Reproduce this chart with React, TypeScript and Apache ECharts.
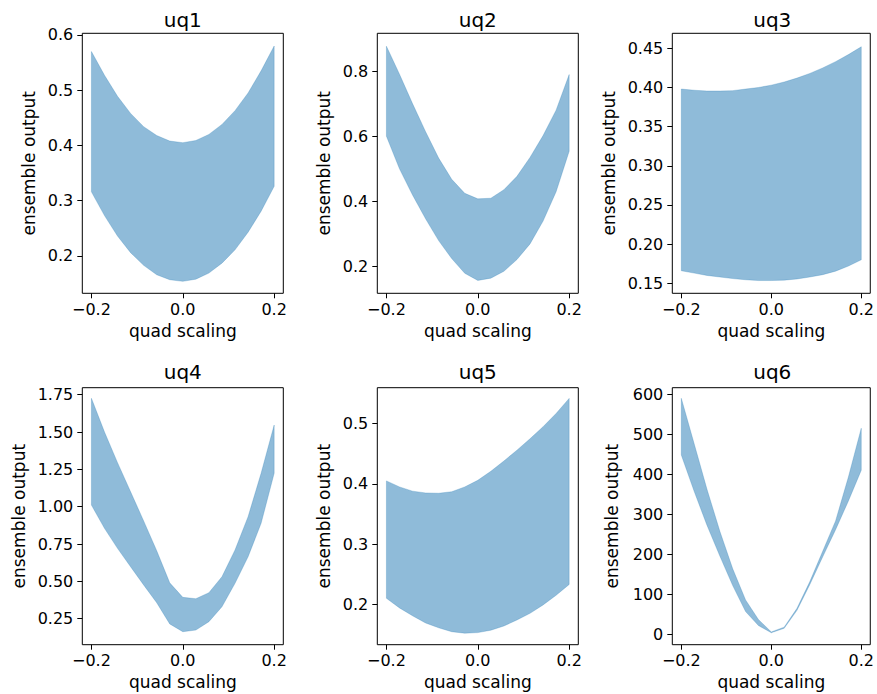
import { useEffect, useRef } from 'react';
import * as echarts from 'echarts';

// ---- data ----
const X_VALUES = [-0.2, -0.1714, -0.1429, -0.1143, -0.0857, -0.0571, -0.0286, 0, 0.0286, 0.0571, 0.0857, 0.1143, 0.1429, 0.1714, 0.2];

const UQ1_UPPER = [0.570, 0.527, 0.489, 0.458, 0.434, 0.418, 0.408, 0.405, 0.409, 0.420, 0.438, 0.463, 0.495, 0.535, 0.580];
const UQ1_LOWER = [0.316, 0.273, 0.236, 0.206, 0.183, 0.166, 0.157, 0.154, 0.158, 0.169, 0.187, 0.211, 0.243, 0.281, 0.326];

const UQ2_UPPER = [0.876, 0.790, 0.700, 0.614, 0.533, 0.468, 0.425, 0.408, 0.410, 0.436, 0.477, 0.535, 0.602, 0.680, 0.789];
const UQ2_LOWER = [0.600, 0.500, 0.420, 0.347, 0.280, 0.225, 0.180, 0.158, 0.165, 0.186, 0.222, 0.270, 0.340, 0.430, 0.554];

const UQ3_UPPER = [0.398, 0.3965, 0.3955, 0.3955, 0.396, 0.398, 0.400, 0.403, 0.407, 0.412, 0.418, 0.425, 0.433, 0.442, 0.452];
const UQ3_LOWER = [0.166, 0.163, 0.160, 0.158, 0.156, 0.1545, 0.1535, 0.1535, 0.154, 0.1555, 0.158, 0.161, 0.1655, 0.172, 0.180];

const UQ4_UPPER = [1.726, 1.500, 1.295, 1.100, 0.905, 0.705, 0.490, 0.393, 0.384, 0.424, 0.531, 0.710, 0.933, 1.224, 1.547];
const UQ4_LOWER = [1.011, 0.855, 0.721, 0.598, 0.476, 0.357, 0.215, 0.163, 0.174, 0.230, 0.330, 0.487, 0.665, 0.889, 1.224];

const UQ5_UPPER = [0.405, 0.395, 0.388, 0.385, 0.3845, 0.387, 0.395, 0.406, 0.421, 0.438, 0.456, 0.475, 0.495, 0.517, 0.542];
const UQ5_LOWER = [0.210, 0.194, 0.181, 0.169, 0.161, 0.1545, 0.152, 0.153, 0.157, 0.164, 0.174, 0.185, 0.199, 0.215, 0.233];

const UQ6_UPPER = [591, 477, 363, 258, 164, 86, 37, 6, 18, 65, 132, 208, 284, 394, 516];
const UQ6_LOWER = [449, 358, 273, 196, 122, 57, 22, 4, 15, 60, 125, 194, 262, 334, 411];

const TITLES = ['uq1', 'uq2', 'uq3', 'uq4', 'uq5', 'uq6'];
const X_TICKS = [-0.2, 0, 0.2];
const Y_TICKS_1 = [0.2, 0.3, 0.4, 0.5, 0.6];
const Y_TICKS_2 = [0.2, 0.4, 0.6, 0.8];
const Y_TICKS_3 = [0.15, 0.2, 0.25, 0.3, 0.35, 0.4, 0.45];
const Y_TICKS_4 = [0.25, 0.5, 0.75, 1.0, 1.25, 1.5, 1.75];
const Y_TICKS_5 = [0.2, 0.3, 0.4, 0.5];
const Y_TICKS_6 = [0, 100, 200, 300, 400, 500, 600];
const X_NAME = 'quad scaling';
const Y_NAME = 'ensemble output';

// ---- layout / styling ----
const FONT = 'DejaVu Sans';
const TICK_FS = 16;
const NAME_FS = 17;
const TITLE_FS = 20;
const FILL = 'rgba(31,119,180,0.5)';

const PANELS = [
  { upper: UQ1_UPPER, lower: UQ1_LOWER, ticks: Y_TICKS_1, dec: 1, yMin: 0.1324, yMax: 0.603, left: 82.3, top: 33.3, width: 201, height: 260, nameGap: 45 },
  { upper: UQ2_UPPER, lower: UQ2_LOWER, ticks: Y_TICKS_2, dec: 1, yMin: 0.1185, yMax: 0.9156, left: 377.3, top: 33.3, width: 201, height: 260, nameGap: 45 },
  { upper: UQ3_UPPER, lower: UQ3_LOWER, ticks: Y_TICKS_3, dec: 2, yMin: 0.1372, yMax: 0.4692, left: 672.3, top: 33.3, width: 200, height: 260, nameGap: 55 },
  { upper: UQ4_UPPER, lower: UQ4_LOWER, ticks: Y_TICKS_4, dec: 2, yMin: 0.0759, yMax: 1.797, left: 82.3, top: 387.7, width: 201, height: 257, nameGap: 55 },
  { upper: UQ5_UPPER, lower: UQ5_LOWER, ticks: Y_TICKS_5, dec: 1, yMin: 0.1329, yMax: 0.5598, left: 377.3, top: 387.7, width: 201, height: 257, nameGap: 45 },
  { upper: UQ6_UPPER, lower: UQ6_LOWER, ticks: Y_TICKS_6, dec: 0, yMin: -26, yMax: 617.5, left: 672.3, top: 387.7, width: 200, height: 257, nameGap: 52 },
];

export default function App() {
  const ref = useRef<HTMLDivElement>(null);
  useEffect(() => {
    document.body.style.margin = '0';
    const chart = echarts.init(ref.current as HTMLDivElement, null, { renderer: 'svg' });
    const textBase = { color: '#000', fontFamily: FONT };

    const grid = PANELS.map((p) => ({
      left: p.left, top: p.top, width: p.width, height: p.height,
      show: true, borderColor: '#000', borderWidth: 1, backgroundColor: 'transparent', containLabel: false,
    }));

    const xAxis = PANELS.map((_, i) => ({
      type: 'value', gridIndex: i, min: -0.22, max: 0.22, position: 'bottom',
      name: X_NAME, nameLocation: 'middle', nameGap: 29,
      nameTextStyle: { ...textBase, fontSize: NAME_FS },
      axisLine: { show: false, onZero: false },
      splitLine: { show: false },
      axisTick: { show: true, inside: false, length: 5, customValues: X_TICKS, lineStyle: { color: '#000', width: 1 } },
      axisLabel: {
        customValues: X_TICKS, margin: 8, ...textBase, fontSize: TICK_FS,
        formatter: (v: number) => (v < 0 ? '\u2212' + Math.abs(v).toFixed(1) : v.toFixed(1)),
      },
    }));

    const yAxis = PANELS.map((p, i) => ({
      type: 'value', gridIndex: i, min: p.yMin, max: p.yMax, position: 'left',
      name: Y_NAME, nameLocation: 'middle', nameGap: p.nameGap,
      nameTextStyle: { ...textBase, fontSize: NAME_FS },
      axisLine: { show: false, onZero: false },
      splitLine: { show: false },
      axisTick: { show: true, inside: false, length: 5, customValues: p.ticks, lineStyle: { color: '#000', width: 1 } },
      axisLabel: {
        customValues: p.ticks, margin: 9, ...textBase, fontSize: TICK_FS,
        formatter: (v: number) => v.toFixed(p.dec),
      },
    }));

    const series = PANELS.map((p, i) => ({
      type: 'custom', xAxisIndex: i, yAxisIndex: i, silent: true,
      data: [[X_VALUES[0], p.lower[0]]],
      renderItem: (_params: any, api: any) => {
        const top = X_VALUES.map((x, j) => api.coord([x, p.upper[j]]));
        const bottom = X_VALUES.map((x, j) => api.coord([x, p.lower[j]])).reverse();
        return { type: 'polygon', shape: { points: top.concat(bottom) }, style: { fill: FILL, stroke: FILL, lineWidth: 0.5 } };
      },
    }));

    const graphic = PANELS.map((p, i) => ({
      type: 'text', x: p.left + p.width / 2, y: i < 3 ? 19.5 : 372,
      style: { text: TITLES[i], fontSize: TITLE_FS, fontFamily: FONT, fill: '#000', align: 'center', verticalAlign: 'middle' },
    }));

    chart.setOption({
      animation: false,
      backgroundColor: '#fff',
      grid, xAxis, yAxis, series, graphic,
    } as any);
    return () => chart.dispose();
  }, []);
  return <div ref={ref} style={{ width: 877, height: 694 }} />;
}
